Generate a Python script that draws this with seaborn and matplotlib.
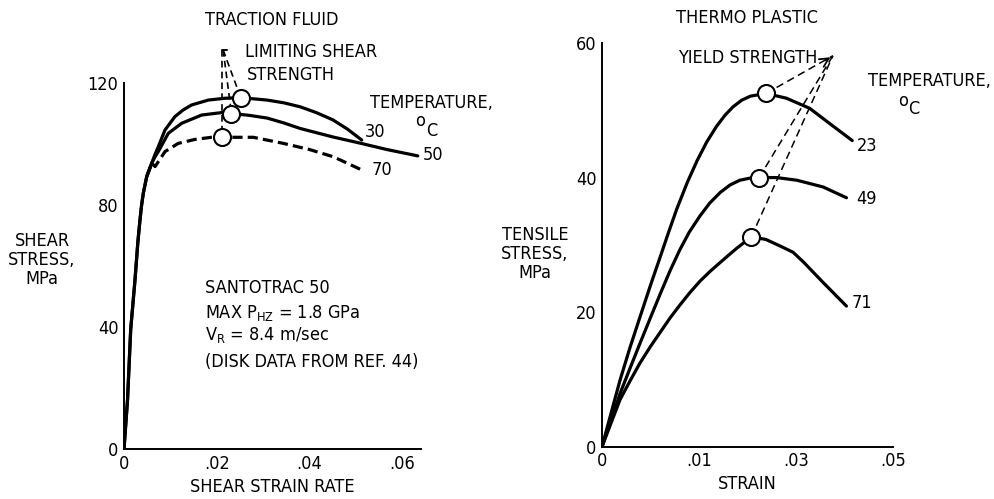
import matplotlib
matplotlib.use("Agg")
import matplotlib.pyplot as plt
from matplotlib import font_manager
import seaborn as sns
import pandas as pd

# --- data ---
# left panel: traction fluid, shear stress (MPa) vs shear strain rate
rise_rate = [0.0, 0.00076, 0.00145, 0.00237, 0.0030, 0.00345, 0.0038, 0.00417, 0.0049, 0.00598]
rise_stress = [0.0, 16.1, 39.3, 55.4, 68.0, 75.1, 80.0, 83.9, 89.3, 93.7]

t30_rate = [0.0067, 0.0074, 0.00885, 0.0110, 0.0128, 0.0146, 0.0182, 0.0218, 0.0252,
            0.0309, 0.0345, 0.0380, 0.0415, 0.0451, 0.0483, 0.0513]
t30_stress = [96.6, 99.1, 104.6, 109.0, 111.2, 112.8, 114.4, 115.0, 115.2,
              114.4, 113.5, 112.2, 110.3, 107.9, 104.8, 101.3]
t50_rate = [0.0067, 0.0074, 0.00956, 0.01245, 0.01677, 0.0211, 0.0232, 0.0270, 0.0309,
            0.0345, 0.0380, 0.0451, 0.0509, 0.0567, 0.0634]
t50_stress = [95.8, 97.5, 103.5, 106.8, 109.5, 110.3, 110.0, 109.4, 108.5,
              106.9, 105.1, 102.3, 100.3, 98.2, 96.1]
t70_rate = [0.0067, 0.00885, 0.0117, 0.0153, 0.0189, 0.0214, 0.0279, 0.0344, 0.0400,
            0.0452, 0.0513]
t70_stress = [92.6, 97.5, 100.2, 101.5, 102.2, 102.2, 102.2, 100.2, 98.2, 95.8, 91.5]

lss_rate = [0.0252, 0.0232, 0.0212]      # limiting shear strength points
lss_stress = [115.2, 110.0, 102.2]

left_xticks = [0.0, 0.02, 0.04, 0.06]
left_xlabels = ["0", ".02", ".04", ".06"]
left_yticks = [0, 40, 80, 120]

# right panel: thermoplastic, tensile stress (MPa) vs strain (tick positions as printed)
t23_strain = [0.0, 0.00186, 0.0029, 0.0039, 0.0050, 0.0060, 0.0068, 0.0077, 0.0088,
              0.0098, 0.0108, 0.0118, 0.0127, 0.0135, 0.0144, 0.0153, 0.0169, 0.0190,
              0.0214, 0.0235, 0.0258]
t23_stress = [0.0, 9.9, 14.8, 19.2, 24.0, 28.2, 31.6, 35.3, 39.3,
              42.5, 45.3, 47.6, 49.3, 50.5, 51.5, 52.1, 52.5, 51.8,
              50.3, 48.0, 45.5]
t49_strain = [0.0, 0.00186, 0.0029, 0.0039, 0.0050, 0.0060, 0.0070, 0.0080, 0.0090,
              0.0101, 0.0111, 0.0122, 0.0132, 0.0142, 0.0152, 0.0162, 0.0180, 0.0201,
              0.0228, 0.0252]
t49_stress = [0.0, 7.9, 11.7, 15.3, 19.2, 22.7, 26.1, 29.2, 31.9,
              34.3, 36.2, 37.8, 38.9, 39.6, 39.9, 40.0, 40.0, 39.6,
              38.6, 37.0]
t71_strain = [0.0, 0.00186, 0.0029, 0.0039, 0.0050, 0.0060, 0.0070, 0.0080, 0.0090,
              0.0101, 0.0111, 0.0122, 0.0130, 0.0139, 0.0147, 0.0154, 0.0169, 0.0184,
              0.0197, 0.0208, 0.0228, 0.0252]
t71_stress = [0.0, 7.0, 9.8, 12.4, 14.9, 17.0, 19.1, 21.0, 22.8,
              24.6, 26.0, 27.4, 28.4, 29.5, 30.4, 31.2, 30.8, 29.8,
              28.9, 27.4, 24.4, 20.9]

ys_strain = [0.0169, 0.0162, 0.0154]    # yield strength points
ys_stress = [52.5, 40.0, 31.2]
ys_target = (0.0238, 58.1)

right_xticks = [0.0, 0.01, 0.02, 0.03]
right_xlabels = ["0", ".01", ".03", ".05"]
right_yticks = [0, 20, 40, 60]

# --- style ---
sns.set_style("white")

# pick a narrow face if one is there, else plain DejaVu a bit smaller
FONT = ["DejaVu Sans"]
FS = 12
STRETCH = "normal"
for fam, st, size in [("Liberation Sans Narrow", "normal", 13),
                      ("DejaVu Sans", "condensed", 13)]:
    try:
        path = font_manager.findfont(font_manager.FontProperties(family=fam, stretch=st),
                                     fallback_to_default=False)
        if ("Narrow" in path) or ("Condensed" in path):
            FONT, STRETCH, FS = [fam, "DejaVu Sans"], st, size
            break
    except Exception:
        pass

plt.rcParams["font.family"] = FONT
plt.rcParams["font.stretch"] = STRETCH
plt.rcParams["text.color"] = "black"
plt.rcParams["mathtext.fontset"] = "custom"
plt.rcParams["mathtext.rm"] = FONT[0]
plt.rcParams["mathtext.default"] = "rm"
LW = 2.3

fig = plt.figure(figsize=(9.95, 4.99), dpi=100)
fig.patch.set_facecolor("white")


def style_axes(ax, xticks, xlabels, yticks, xmax, ymax):
    ax.set_xlim(0, xmax)
    ax.set_ylim(0, ymax)
    ax.set_xticks(xticks)
    ax.set_xticklabels(xlabels)
    ax.set_yticks(yticks)
    ax.set_yticklabels([str(v) for v in yticks])
    ax.tick_params(direction="in", length=17, width=1.2, labelsize=FS,
                   colors="black", pad=4)
    for side in ["top", "right"]:
        ax.spines[side].set_visible(False)
    for side in ["left", "bottom"]:
        ax.spines[side].set_linewidth(1.4)
        ax.spines[side].set_color("black")
    ax.set_xlabel("")
    ax.set_ylabel("")
    ax.set_facecolor("white")


# ================= left panel =================
axL = fig.add_axes([124 / 995, 50 / 499, 297 / 995, 366 / 499])

c30 = pd.DataFrame({"rate": rise_rate + t30_rate, "stress": rise_stress + t30_stress})
c50 = pd.DataFrame({"rate": rise_rate + t50_rate, "stress": rise_stress + t50_stress})
c70 = pd.DataFrame({"rate": rise_rate[-2:] + t70_rate, "stress": rise_stress[-2:] + t70_stress})

for d in [c30, c50]:
    sns.lineplot(data=d, x="rate", y="stress", ax=axL, color="black", lw=LW,
                 sort=False, estimator=None)
sns.lineplot(data=c70, x="rate", y="stress", ax=axL, color="black", lw=LW,
             sort=False, estimator=None, linestyle=(0, (3.2, 1.6)))
for ln in axL.lines:
    ln.set_solid_capstyle("round")
    ln.set_solid_joinstyle("round")

# dashed leaders to the limiting shear strength points
corner = (0.0212, 130.8)
for xr, ys in zip(lss_rate, lss_stress):
    axL.plot([corner[0] + (0.0002 if xr > 0.022 else 0), xr], [corner[1], ys],
             color="black", lw=1.2, ls=(0, (4, 2.5)), clip_on=False)
axL.plot([corner[0], corner[0] + 0.0011], [corner[1], corner[1]], color="black",
         lw=1.4, clip_on=False)

sns.scatterplot(x=lss_rate, y=lss_stress, ax=axL, s=150, facecolor="white",
                edgecolor="black", linewidth=1.5, zorder=5, clip_on=False)

style_axes(axL, left_xticks, left_xlabels, left_yticks, 0.0641, 120)

axL.text(0.0261, 130.2, "LIMITING SHEAR", fontsize=FS, va="center", ha="left")
axL.text(0.0265, 122.6, "STRENGTH", fontsize=FS, va="center", ha="left")
axL.text(0.0531, 113.3, "TEMPERATURE,", fontsize=FS, va="center", ha="left")
axL.text(0.0639, 107.4, "o", fontsize=FS, va="center", ha="center")
axL.text(0.0665, 104.4, "C", fontsize=FS, va="center", ha="center")
axL.text(0.0542, 103.9, "30", fontsize=FS, va="center", ha="center")
axL.text(0.0667, 96.4, "50", fontsize=FS, va="center", ha="center")
axL.text(0.0557, 91.5, "70", fontsize=FS, va="center", ha="center")

axL.text(0.0175, 52.8, "SANTOTRAC 50", fontsize=FS, va="center", ha="left")
axL.text(0.0175, 44.6, "MAX P$_{HZ}$ = 1.8 GPa", fontsize=FS, va="center", ha="left")
axL.text(0.0175, 37.4, "V$_{R}$ = 8.4 m/sec", fontsize=FS, va="center", ha="left")
axL.text(0.0175, 28.5, "(DISK DATA FROM REF. 44)", fontsize=FS, va="center", ha="left")

fig.text(272 / 995, 1 - 20 / 499, "TRACTION FLUID", fontsize=FS, ha="center", va="center")
fig.text(272 / 995, 1 - 487 / 499, "SHEAR STRAIN RATE", fontsize=FS, ha="center", va="center")
fig.text(42 / 995, 1 - 260 / 499, "SHEAR\nSTRESS,\nMPa", fontsize=FS, ha="center",
         va="center", linespacing=1.1, multialignment="center")

# ================= right panel =================
axR = fig.add_axes([602 / 995, 52.3 / 499, 291 / 995, 403.7 / 499])

for xs, ys in [(t23_strain, t23_stress), (t49_strain, t49_stress), (t71_strain, t71_stress)]:
    d = pd.DataFrame({"strain": xs, "stress": ys})
    sns.lineplot(data=d, x="strain", y="stress", ax=axR, color="black", lw=LW,
                 sort=False, estimator=None)
for ln in axR.lines:
    ln.set_solid_capstyle("round")
    ln.set_solid_joinstyle("round")

for xs, ys in zip(ys_strain, ys_stress):
    axR.plot([xs, ys_target[0]], [ys, ys_target[1]], color="black", lw=1.1,
             ls=(0, (5, 3)), clip_on=False)
axR.annotate("", xy=ys_target, xytext=(0.0228, 57.2),
             arrowprops=dict(arrowstyle="->", color="black", lw=1.3,
                             mutation_scale=16), annotation_clip=False)

sns.scatterplot(x=ys_strain, y=ys_stress, ax=axR, s=150, facecolor="white",
                edgecolor="black", linewidth=1.5, zorder=5, clip_on=False)

style_axes(axR, right_xticks, right_xlabels, right_yticks, 0.03, 60)

axR.text(0.0150, 57.7, "YIELD STRENGTH", fontsize=FS, va="center", ha="center")
axR.text(0.0338, 54.4, "TEMPERATURE,", fontsize=FS, va="center", ha="center")
axR.text(0.0310, 51.4, "o", fontsize=FS, va="center", ha="center")
axR.text(0.0321, 50.2, "C", fontsize=FS, va="center", ha="center")
axR.text(0.0273, 44.7, "23", fontsize=FS, va="center", ha="center")
axR.text(0.0273, 36.8, "49", fontsize=FS, va="center", ha="center")
axR.text(0.0268, 21.4, "71", fontsize=FS, va="center", ha="center")

fig.text(747 / 995, 1 - 18 / 499, "THERMO PLASTIC", fontsize=FS, ha="center", va="center")
fig.text(747 / 995, 1 - 484 / 499, "STRAIN", fontsize=FS, ha="center", va="center")
fig.text(535 / 995, 1 - 254 / 499, "TENSILE\nSTRESS,\nMPa", fontsize=FS, ha="center",
         va="center", linespacing=1.1, multialignment="center")

fig.savefig("out.png", dpi=100)
